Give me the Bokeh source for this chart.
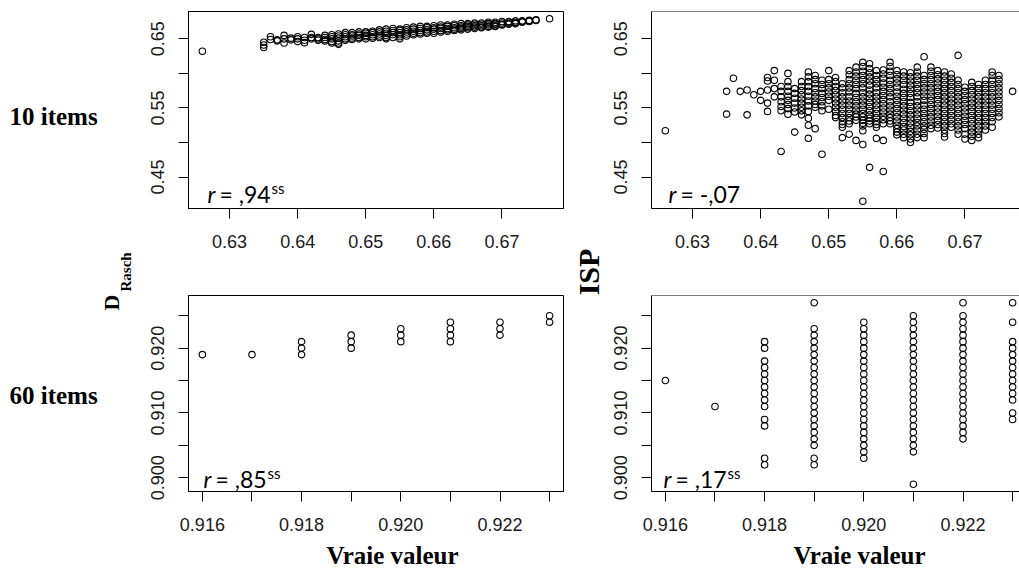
import math
from bokeh.plotting import figure
from bokeh.models import Range1d, FixedTicker, Label, Span, CustomJSTickFormatter
from bokeh.layouts import row, column
from bokeh.embed import file_html
from bokeh.resources import INLINE

# ---------------- data ----------------
row_labels = ["10 items", "60 items"]
ylab_left_main, ylab_left_sub = "D", "Rasch"
ylab_right = "ISP"
x_title = "Vraie valeur"
corr_values = [",94", "-,07", ",85", ",17"]      # TL, TR, BL, BR
corr_sig = ["ss", "", "ss", "ss"]

# 10 items, D_Rasch: true value (x1000) -> estimates (x10000)
rasch10 = {
    626: [6320],
    635: [6375, 6410, 6450],
    636: [6530, 6490],
    637: [6485, 6470],
    638: [6550, 6500, 6440],
    639: [6485, 6510],
    640: [6530, 6500, 6460],
    641: [6520, 6480, 6445],
    642: [6565, 6520, 6500],
    643: [6500, 6520, 6480],
    644: [6550, 6520, 6490, 6470],
    645: [6560, 6530, 6500, 6460, 6440],
    646: [6570, 6540, 6510, 6470, 6420, 6440],
    647: [6590, 6560, 6530, 6500, 6480],
    648: [6590, 6560, 6540, 6510, 6490],
    649: [6600, 6570, 6550, 6520, 6500],
    650: [6600, 6580, 6550, 6530, 6500],
    651: [6610, 6590, 6560, 6530, 6510],
    652: [6630, 6600, 6570, 6540, 6520],
    653: [6640, 6610, 6580, 6550, 6500, 6520],
    654: [6650, 6620, 6590, 6560, 6520],
    655: [6640, 6620, 6590, 6560, 6500, 6530],
    656: [6660, 6630, 6600, 6570, 6540],
    657: [6670, 6640, 6610, 6580, 6560],
    658: [6680, 6650, 6620, 6590, 6570],
    659: [6680, 6660, 6630, 6600, 6580],
    660: [6690, 6660, 6640, 6610, 6580],
    661: [6700, 6670, 6650, 6620, 6600],
    662: [6700, 6680, 6650, 6630, 6610],
    663: [6710, 6690, 6660, 6640, 6620],
    664: [6720, 6690, 6670, 6650, 6630],
    665: [6720, 6700, 6680, 6660, 6640],
    666: [6730, 6710, 6690, 6670, 6650],
    667: [6730, 6710, 6690, 6670, 6660],
    668: [6740, 6720, 6700, 6680, 6670],
    669: [6740, 6720, 6710, 6690, 6680],
    670: [6750, 6730, 6710, 6700],
    671: [6750, 6740, 6720, 6710],
    672: [6760, 6740, 6730, 6720],
    673: [6760, 6750, 6740],
    674: [6770, 6760, 6750],
    675: [6775, 6765],
    677: [6790],
}

# 10 items, ISP: true value (x1000) -> estimates (x1000)
isp10 = {
    626: [517],
    635: [574, 541],
    636: [593],
    637: [574],
    638: [576, 540],
    639: [569],
    640: [574, 561],
    641: [594, 589, 576, 557, 545],
    642: [604, 590, 578, 566],
    643: [581, 574, 566, 559, 552, 546, 487],
    644: [600, 588, 581, 574, 567, 561, 555, 549, 541],
    645: [578, 571, 564, 557, 550, 544, 515],
    646: [588, 581, 575, 569, 563, 557, 551, 546, 540],
    647: [602, 595, 588, 581, 574, 567, 560, 553, 545, 535, 525, 506],
    648: [597, 591, 585, 578, 572, 566, 560, 555, 551, 520],
    649: [590, 584, 578, 571, 565, 559, 553, 546, 483],
    650: [604, 591, 585, 579, 573, 567, 561, 548],
    651: [594, 588, 581, 575, 569, 563, 557, 551, 545, 539, 536],
    652: [585, 579, 572, 566, 560, 554, 548, 542, 536, 530, 526, 522, 507],
    653: [604, 598, 591, 585, 579, 573, 566, 560, 554, 548, 542, 536, 531, 527, 512],
    654: [609, 602, 596, 590, 584, 578, 571, 565, 559, 553, 547, 541, 537, 532, 503],
    655: [616, 610, 603, 597, 591, 585, 579, 572, 566, 560, 554, 548, 542, 537, 532, 528, 524, 517, 497, 415],
    656: [614, 607, 601, 595, 589, 583, 576, 570, 564, 558, 552, 546, 540, 535, 531, 527, 464],
    657: [604, 597, 591, 585, 579, 572, 566, 560, 554, 548, 542, 536, 530, 526, 522, 506],
    658: [605, 599, 593, 586, 580, 574, 568, 562, 556, 550, 544, 538, 533, 527, 503, 458],
    659: [616, 610, 603, 597, 590, 584, 578, 572, 566, 559, 553, 547, 541, 536, 531, 527],
    660: [604, 598, 592, 586, 580, 573, 567, 561, 555, 549, 543, 537, 531, 525, 520, 515, 511],
    661: [602, 596, 590, 584, 577, 571, 565, 559, 553, 547, 541, 535, 529, 523, 518, 512, 507],
    662: [601, 595, 589, 583, 577, 571, 565, 558, 552, 546, 540, 534, 528, 522, 516, 511, 505, 500],
    663: [609, 602, 596, 590, 584, 578, 572, 566, 559, 553, 547, 541, 535, 529, 524, 518, 512, 507],
    664: [624, 597, 591, 585, 579, 573, 567, 561, 554, 548, 542, 536, 530, 524, 519, 513, 507],
    665: [609, 603, 597, 591, 585, 579, 573, 567, 561, 555, 549, 543, 537, 531, 525, 520],
    666: [604, 598, 592, 586, 580, 574, 568, 562, 556, 550, 544, 538, 532, 526, 521],
    667: [602, 596, 590, 584, 578, 572, 566, 560, 554, 548, 542, 536, 530, 524, 518, 513, 508],
    668: [599, 593, 587, 581, 575, 569, 563, 557, 551, 545, 539, 533, 527, 522],
    669: [626, 590, 584, 578, 572, 566, 560, 554, 548, 542, 536, 530, 524, 518, 512],
    670: [580, 574, 568, 562, 556, 550, 544, 538, 532, 526, 520, 512, 505],
    671: [587, 581, 575, 569, 563, 557, 551, 545, 539, 533, 527, 521, 515, 509, 503],
    672: [584, 578, 572, 566, 560, 554, 548, 542, 536, 530, 524, 518, 512, 507],
    673: [590, 584, 578, 572, 566, 560, 554, 548, 542, 536, 530, 524, 518],
    674: [602, 597, 590, 584, 578, 572, 566, 560, 554, 548, 542, 536, 530, 522],
    675: [597, 591, 585, 579, 573, 567, 561, 555, 549, 543, 537],
    677: [574],
}

# 60 items, D_Rasch: true value (x1000) -> estimates (x1000)
rasch60 = {
    916: [919],
    917: [919],
    918: [919, 920, 921],
    919: [920, 921, 922],
    920: [921, 922, 923],
    921: [921, 922, 923, 924],
    922: [922, 923, 924],
    923: [924, 925],
}

# 60 items, ISP: true value (x1000) -> estimates (x1000)
isp60 = {
    916: [915],
    917: [911],
    918: [921, 920, 918, 917, 916, 915, 914, 913, 912, 911, 909, 908, 903, 902],
    919: [927, 923, 922, 921, 920, 919, 918, 917, 916, 915, 914, 913, 912, 911, 910,
          909, 908, 907, 906, 905, 903, 902],
    920: [924, 923, 922, 921, 920, 919, 918, 917, 916, 915, 914, 913, 912, 911, 910,
          909, 908, 907, 906, 905, 904, 903],
    921: [925, 924, 923, 922, 921, 920, 919, 918, 917, 916, 915, 914, 913, 912, 911,
          910, 909, 908, 907, 906, 905, 904, 899],
    922: [927, 925, 924, 923, 922, 921, 920, 919, 918, 917, 916, 915, 914, 913, 912,
          911, 910, 909, 908, 907, 906],
    923: [927, 924, 921, 920, 919, 918, 917, 916, 915, 914, 913, 912, 910, 909],
}

top_xticks = [0.63, 0.64, 0.65, 0.66, 0.67]
top_xlabels = ["0.63", "0.64", "0.65", "0.66", "0.67"]
top_yticks = [0.45, 0.50, 0.55, 0.60, 0.65]
top_ylabels = ["0.45", "", "0.55", "", "0.65"]
bot_xticks = [0.916, 0.917, 0.918, 0.919, 0.920, 0.921, 0.922, 0.923]
bot_xlabels = ["0.916", "", "0.918", "", "0.920", "", "0.922", ""]
bot_yticks = [0.900, 0.905, 0.910, 0.915, 0.920, 0.925]
bot_ylabels = ["0.900", "", "0.910", "", "0.920", ""]


def flatten(d, xs, ys):
    x, y = [], []
    for k, vals in d.items():
        for v in vals:
            x.append(k / xs)
            y.append(v / ys)
    return x, y


tl_x, tl_y = flatten(rasch10, 1000.0, 10000.0)
tr_x, tr_y = flatten(isp10, 1000.0, 1000.0)
bl_x, bl_y = flatten(rasch60, 1000.0, 1000.0)
br_x, br_y = flatten(isp60, 1000.0, 1000.0)


def rrange(vals):
    lo, hi = min(vals), max(vals)
    d = 0.04 * (hi - lo)
    return lo - d, hi + d


top_xr = rrange(tl_x + tr_x)
top_yr = rrange(tl_y + tr_y)
bot_xr = rrange(bl_x + br_x)
bot_yr = rrange(bl_y + br_y)

# ---------------- layout geometry (pixels) ----------------
H_TOP, H_BOT, H_XT = 288, 249, 32
W_STRIP_L, W_LEFT, W_STRIP_M, W_RIGHT = 138, 430, 37, 414
LEFT_MB = (50, 5)     # left, right borders of left-column panels
RIGHT_MB = (46, 0)
TOP_MB = (11, 80)     # top, bottom borders of top row
BOT_MB = (7, 46)
FRAME_W_LEFT = W_LEFT - sum(LEFT_MB)
FRAME_W_RIGHT = W_RIGHT - sum(RIGHT_MB)
H_ALL = H_TOP + H_BOT + H_XT

FMT_CODE = ("const i = tvals.findIndex((t) => Math.abs(t - tick) < 1e-9);"
            "return i < 0 ? '' : tlabs[i];")


def panel(xs, ys, xr, yr, width, height, mb_lr, mb_tb, xt, xl, yt, yl, boxed):
    p = figure(width=width, height=height,
               x_range=Range1d(xr[0], xr[1]), y_range=Range1d(yr[0], yr[1]),
               output_backend="svg", toolbar_location=None,
               min_border_left=mb_lr[0], min_border_right=mb_lr[1],
               min_border_top=mb_tb[0], min_border_bottom=mb_tb[1])
    p.grid.grid_line_color = None
    p.background_fill_color = "white"
    p.border_fill_color = "white"
    if boxed:
        p.outline_line_color = "black"
        p.outline_line_width = 1
        p.outline_line_alpha = 1
    else:
        p.outline_line_color = None
        p.add_layout(Span(location=yr[1], dimension="width",
                          line_color="black", line_width=1))
    for ax, ticks, labels in ((p.xaxis[0], xt, xl), (p.yaxis[0], yt, yl)):
        ax.ticker = FixedTicker(ticks=ticks, minor_ticks=[])
        ax.formatter = CustomJSTickFormatter(args=dict(tvals=ticks, tlabs=labels),
                                             code=FMT_CODE)
        ax.axis_line_color = "black"
        ax.axis_line_width = 1
        ax.major_tick_line_color = "black"
        ax.major_tick_line_width = 1
        ax.major_tick_out = 10
        ax.major_tick_in = 0
        ax.minor_tick_line_color = None
        ax.major_label_text_font = "Liberation Sans"
        ax.major_label_text_font_size = "18px"
        ax.major_label_text_color = "#1a1a1a"
    p.xaxis.major_label_standoff = 16
    p.yaxis.major_label_standoff = 14
    p.yaxis.major_label_orientation = "vertical"
    p.scatter(xs, ys, marker="circle", size=6.5, fill_color=None,
              line_color="black", line_width=1.1)
    return p


def add_corr(p, x, y, value, sig):
    common = dict(x_units="screen", y_units="screen", text_font="Lato",
                  text_color="black", text_baseline="middle", text_align="left")
    p.add_layout(Label(x=x, y=y, text="r", text_font_style="italic",
                       text_font_size="23px", **common))
    p.add_layout(Label(x=x + 12, y=y, text="= " + value,
                       text_font_size="23px", **common))
    if sig:
        p.add_layout(Label(x=x + 64, y=y + 6, text=sig,
                           text_font_size="15px", **common))


def strip(width, height, mb_left=0, mb_right=0):
    fw = width - mb_left - mb_right
    p = figure(width=width, height=height, x_range=Range1d(0, fw),
               y_range=Range1d(0, height), output_backend="svg",
               toolbar_location=None, min_border=0,
               min_border_left=mb_left, min_border_right=mb_right,
               min_border_top=0, min_border_bottom=0,
               x_axis_location=None, y_axis_location=None)
    p.grid.visible = False
    p.outline_line_color = None
    p.background_fill_color = "white"
    p.border_fill_color = "white"
    return p


top_xr_right = (top_xr[0], top_xr[0] + (top_xr[1] - top_xr[0]) * FRAME_W_RIGHT / FRAME_W_LEFT)
bot_xr_right = (bot_xr[0], bot_xr[0] + (bot_xr[1] - bot_xr[0]) * FRAME_W_RIGHT / FRAME_W_LEFT)

p_tl = panel(tl_x, tl_y, top_xr, top_yr, W_LEFT, H_TOP, LEFT_MB, TOP_MB,
             top_xticks, top_xlabels, top_yticks, top_ylabels, True)
p_tr = panel(tr_x, tr_y, top_xr_right, top_yr, W_RIGHT, H_TOP, RIGHT_MB, TOP_MB,
             top_xticks, top_xlabels, top_yticks, top_ylabels, False)
p_bl = panel(bl_x, bl_y, bot_xr, bot_yr, W_LEFT, H_BOT, LEFT_MB, BOT_MB,
             bot_xticks, bot_xlabels, bot_yticks, bot_ylabels, True)
p_br = panel(br_x, br_y, bot_xr_right, bot_yr, W_RIGHT, H_BOT, RIGHT_MB, BOT_MB,
             bot_xticks, bot_xlabels, bot_yticks, bot_ylabels, False)

add_corr(p_tl, 19, 15, corr_values[0], corr_sig[0])
add_corr(p_tr, 17, 15, corr_values[1], corr_sig[1])
add_corr(p_bl, 15, 13, corr_values[2], corr_sig[2])
add_corr(p_br, 12, 13, corr_values[3], corr_sig[3])

serif = "Liberation Serif"


def serif_label(p, x, y, text, size, align="left", angle=0.0):
    p.add_layout(Label(x=x, y=y, text=text, text_font=serif, text_font_style="bold",
                       text_font_size=size, text_color="black",
                       text_baseline="middle", text_align=align, angle=angle))


# x titles under each column (frames aligned with the panels above)
xt_left = strip(W_LEFT, H_XT, LEFT_MB[0], LEFT_MB[1])
serif_label(xt_left, 204, 14.5, x_title, "25px", "center")
xt_right = strip(W_RIGHT, H_XT, RIGHT_MB[0], RIGHT_MB[1])
serif_label(xt_right, 208, 14.5, x_title, "25px", "center")

# row labels and left y title
s_left = strip(W_STRIP_L, H_ALL)
serif_label(s_left, 9, H_ALL - 115.5, row_labels[0], "25px")
serif_label(s_left, 9, H_ALL - 394.5, row_labels[1], "25px")
serif_label(s_left, 111, H_ALL - 310, ylab_left_main, "22px", "left", math.pi / 2)
serif_label(s_left, 125, H_ALL - 291, ylab_left_sub, "15px", "left", math.pi / 2)

# right y title
s_mid = strip(W_STRIP_M, H_ALL)
serif_label(s_mid, 20, H_ALL - 271.5, ylab_right, "30px", "center", math.pi / 2)

layout = row(s_left, column(p_tl, p_bl, xt_left), s_mid, column(p_tr, p_br, xt_right))

open("out.html", "w").write(file_html(layout, INLINE, title="D_Rasch vs ISP"))
